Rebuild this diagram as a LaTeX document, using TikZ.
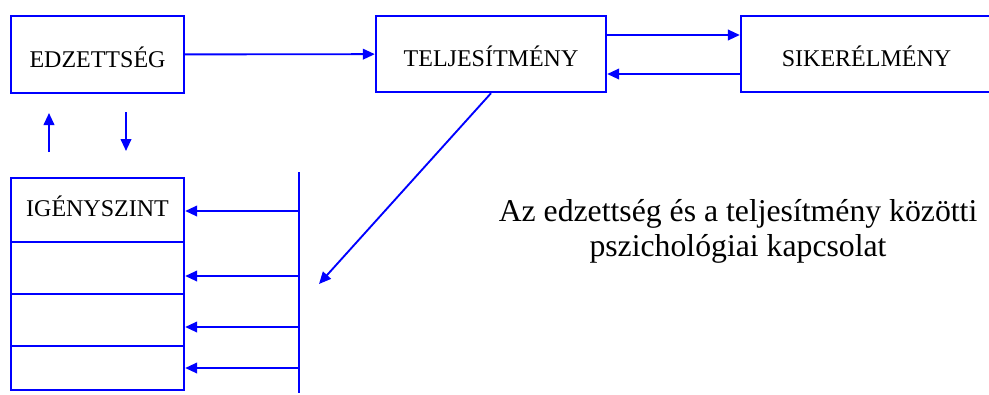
\documentclass[tikz,border=0pt]{standalone}
\usepackage{fontspec}
\setmainfont{Liberation Serif}
\usetikzlibrary{arrows.meta,positioning,calc}
\definecolor{kek}{RGB}{0,0,255}

\begin{document}
\begin{tikzpicture}[x=0.75pt,y=-0.75pt,>={Triangle[length=9pt,width=8pt]},
  doboz/.style={draw=kek,line width=1.8pt,inner sep=0pt,text depth=0pt,font=\fontsize{18}{20}\selectfont},
  felso/.style={doboz,text height=19.4pt},
  nyil/.style={->,kek,line width=1.4pt}]
 \useasboundingbox (0,0) rectangle (989,394);
 % upper row of boxes
 \node[felso,minimum width=129.75pt,minimum height=57.75pt] (edz) at (97.5,54.5) {EDZETTSÉG};
 \node[felso,minimum width=172.5pt,minimum height=57pt] (telj) at (491,54) {TELJESÍTMÉNY};
 \node[felso,minimum width=188.25pt,minimum height=57pt] (siker) at (866.5,54) {SIKERÉLMÉNY};
 % column of levels
 \node[doboz,text height=9.8pt,minimum width=129.75pt,minimum height=48pt] (igeny1) at (97.5,210) {IGÉNYSZINT};
 \node[doboz,minimum width=129.75pt,minimum height=39pt] (igeny2) at (97.5,268) {};
 \node[doboz,minimum width=129.75pt,minimum height=39pt] (igeny3) at (97.5,320) {};
 \node[doboz,minimum width=129.75pt,minimum height=33pt] (igeny4) at (97.5,368) {};
 % vertical bar and its taps
 \coordinate (bartop) at (299,172);
 \coordinate (barbot) at (299,393);
 \draw[kek,line width=2pt] (bartop) -- (barbot);
 \coordinate (b1) at (299,211);
 \coordinate (b2) at (299,276);
 \coordinate (b3) at (299,327);
 \coordinate (b4) at (299,368);
 \foreach \i in {1,...,4}
   \draw[nyil] (b\i) -- (b\i -| igeny\i.east);
 % arrows between the boxes
 \draw[nyil] (edz) -- (telj);
 \draw[nyil] ([yshift=14.25pt]telj.east) -- ([yshift=14.25pt]siker.west);
 \draw[nyil] ([yshift=-15pt]siker.west) -- ([yshift=-15pt]telj.east);
 \coordinate (hegy) at (319,284);
 \draw[nyil] (telj.south) -- (hegy);
 % up and down between EDZETTSÉG and the column
 \coordinate (fel1) at (49,152);
 \coordinate (fel2) at (49,113);
 \coordinate (le1) at (126,112);
 \coordinate (le2) at (126,151);
 \draw[nyil] (fel1) -- (fel2);
 \draw[nyil] (le1) -- (le2);
 % caption
 \node[align=center,font=\fontsize{23.8}{26.25}\selectfont] (cim) at (738,231)
   {Az edzettség és a teljesítmény közötti\\pszichológiai kapcsolat};
\end{tikzpicture}
\end{document}
